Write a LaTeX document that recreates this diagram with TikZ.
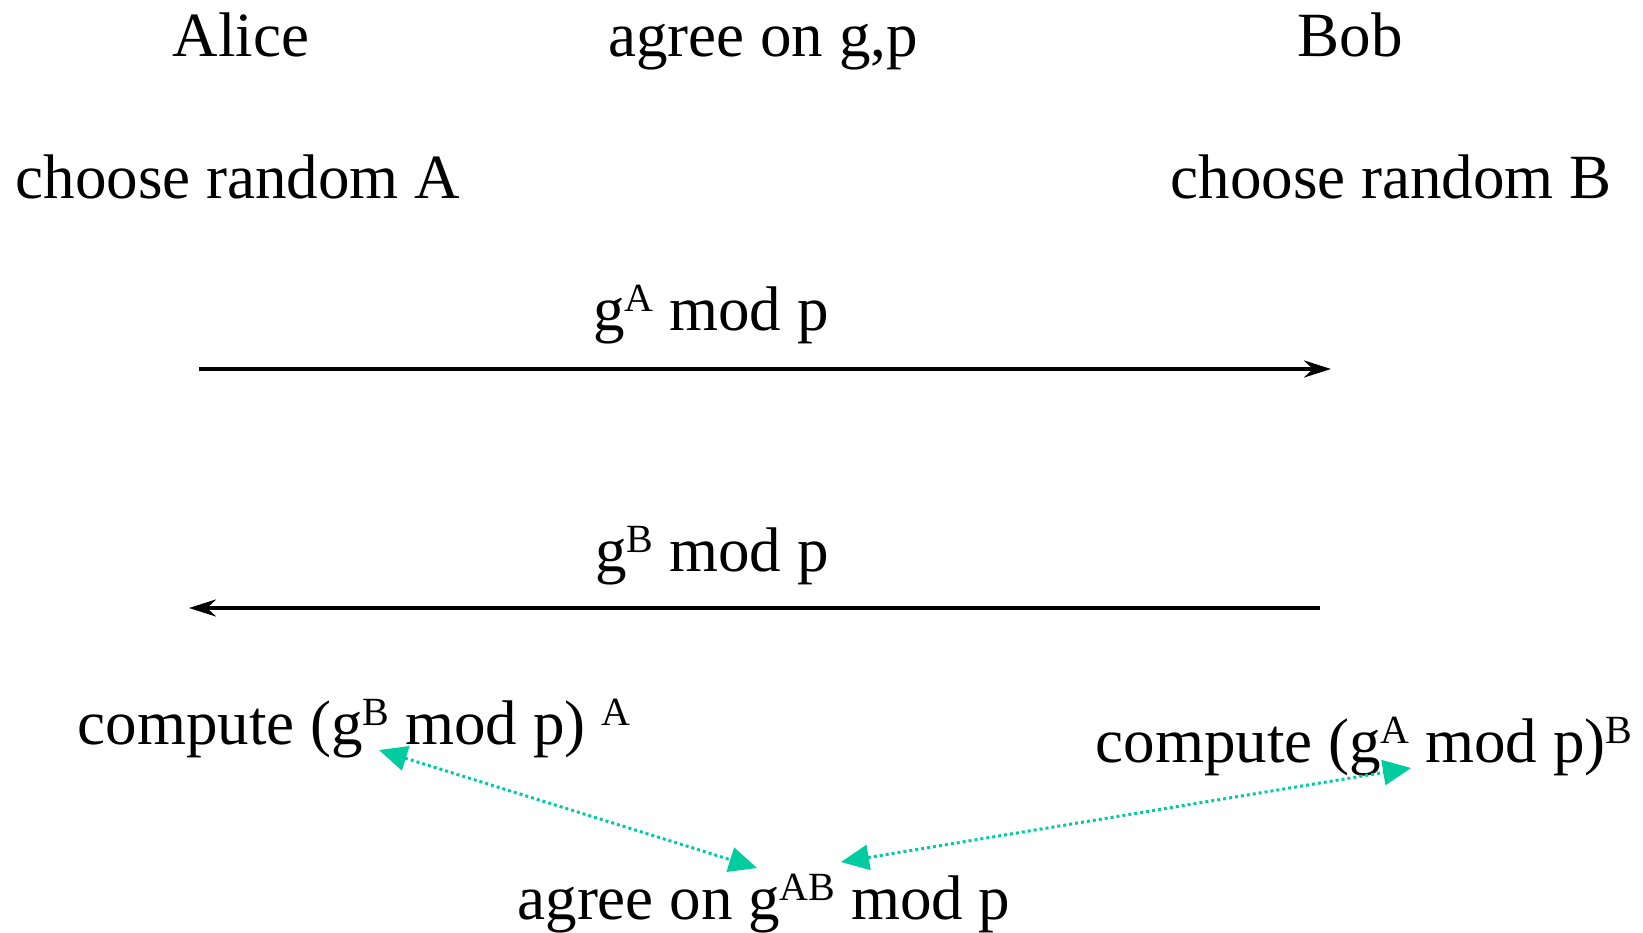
\documentclass[tikz,border=0pt]{standalone}
\usepackage{fontspec}
\setmainfont{Liberation Serif}
\usetikzlibrary{arrows.meta}
\definecolor{linkgreen}{RGB}{0,204,160}
\newcommand{\expo}[1]{\raisebox{19pt}{\fontsize{40}{40}\selectfont #1}}
\tikzset{
  lbl/.style={anchor=base, inner sep=0pt, font=\fontsize{63}{75}\selectfont},
  msg/.style={line width=4pt, -{Stealth[length=27pt,width=17pt,inset=9pt]}},
  link/.style={linkgreen, line width=3pt, dash pattern=on 3pt off 3pt,
    {Triangle[length=28pt,width=25pt]}-{Triangle[length=28pt,width=25pt]}}
}
\begin{document}
\begin{tikzpicture}[x=1pt, y=-1pt]
    \useasboundingbox (0,0) rectangle (1643,933);

    % The two parties and the public values
    \node[lbl] (alice) at (241,57) {Alice};
    \node[lbl] (public) at (763,57) {agree on g,p};
    \node[lbl] (bob) at (1350,57) {Bob};

    % Secret choices
    \node[lbl] (secA) at (238,199) {choose random A};
    \node[lbl] (secB) at (1391,199) {choose random B};

    % Message from Alice to Bob
    \node[lbl] (msgA) at (711,330) {g\expo{A} mod p};
    \coordinate (a1) at (199,369);
    \coordinate (b1) at (1331,369);
    \draw[msg] (a1) -- (b1);

    % Message from Bob to Alice
    \node[lbl] (msgB) at (712,571) {g\expo{B} mod p};
    \coordinate (b2) at (1320,608);
    \coordinate (a2) at (189,608);
    \draw[msg] (b2) -- (a2);

    % Both sides compute the key
    \node[lbl] (keyA) at (354,744) {compute (g\expo{B} mod p) \expo{A}};
    \node[lbl] (keyB) at (1364,762) {compute (g\expo{A} mod p)\expo{B}};
    \node[lbl] (shared) at (764,919) {agree on g\expo{AB} mod p};

    \coordinate (kA) at (379,750);
    \coordinate (kB) at (1411,768);
    \coordinate (sA) at (757,868);
    \coordinate (sB) at (841,862);
    \draw[link] (kA) -- (sA);
    \draw[link] (sB) -- (kB);
\end{tikzpicture}
\end{document}
